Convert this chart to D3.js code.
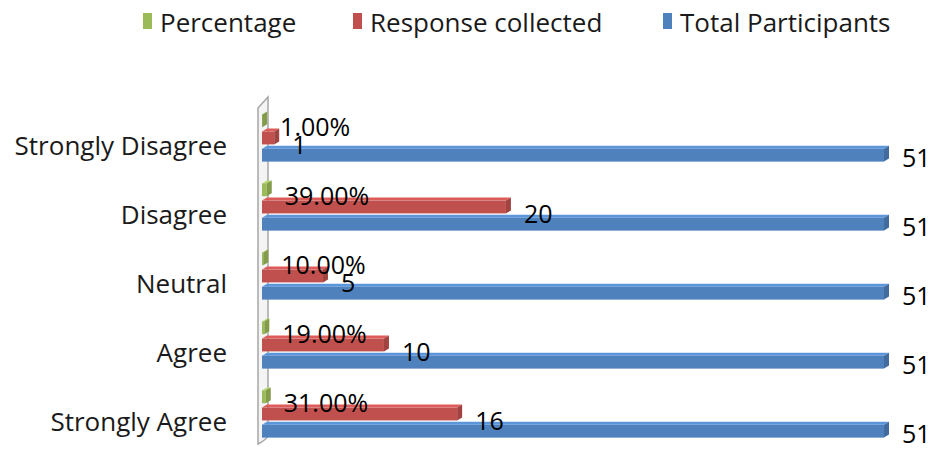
<!DOCTYPE html>
<html>
<head>
<meta charset="utf-8">
<script src="https://cdn.jsdelivr.net/npm/d3@7"></script>
<style>
  body { margin: 0; background: #fff; }
  text { font-family: "Open Sans", Lato, sans-serif; }
</style>
</head>
<body>
<div id="chart"></div>
<script>
var categories = ["Strongly Disagree", "Disagree", "Neutral", "Agree", "Strongly Agree"];
var seriesNames = ["Percentage", "Response collected", "Total Participants"];
var percentage = [0.01, 0.39, 0.10, 0.19, 0.31];
var responses = [1, 20, 5, 10, 16];
var participants = [51, 51, 51, 51, 51];
var colors = ["#9bbb59", "#c0504d", "#4f81bd"];

var width = 935, height = 450;
var depth = 5;

var svg = d3.select("#chart").append("svg")
  .attr("width", width)
  .attr("height", height);

svg.append("rect").attr("width", width).attr("height", height).attr("fill", "#fff");

var x = d3.scaleLinear()
  .domain([0, 51])
  .range([262, 884]);

var y0 = d3.scaleBand()
  .domain(categories)
  .range([110, 455]);

var y1 = d3.scaleBand()
  .domain(seriesNames)
  .range([0, 53])
  .padding(0.08);

var rows = categories.map(function(c, i) {
  return {
    cat: c,
    values: [
      { s: 0, v: percentage[i], label: (percentage[i] * 100).toFixed(2) + "%" },
      { s: 1, v: responses[i], label: String(responses[i]) },
      { s: 2, v: participants[i], label: String(participants[i]) }
    ]
  };
});

// side wall
var wall = svg.append("g");
wall.append("path")
  .attr("d", "M258,440 L258,108 L268,97 L268,436 Q266,440 258,444 Z")
  .attr("fill", "#f4f4f4")
  .attr("stroke", "#a6a6a6")
  .attr("stroke-width", 1.5);

// bars
var groups = svg.selectAll(".cat")
  .data(rows).enter()
  .append("g")
  .attr("class", "cat")
  .attr("transform", function(d) { return "translate(0," + y0(d.cat) + ")"; });

groups.each(function(d) {
  var g = d3.select(this);
  d.values.forEach(function(b) {
    var name = seriesNames[b.s];
    var x0 = x(0), x1 = x(b.v);
    var yt = y1(name) + 3, h = y1.bandwidth() - 3;
    var c = d3.color(colors[b.s]);
    // top face
    g.append("path")
      .attr("d", "M" + x0 + "," + yt + " L" + (x0 + depth) + "," + (yt - 3) +
        " L" + (x1 + depth) + "," + (yt - 3) + " L" + x1 + "," + yt + " Z")
      .attr("fill", c.brighter(0.4));
    // front face
    g.append("rect")
      .attr("x", x0)
      .attr("y", yt)
      .attr("width", Math.max(0, x1 - x0))
      .attr("height", h)
      .attr("fill", colors[b.s]);
    // end face
    g.append("path")
      .attr("d", "M" + x1 + "," + yt + " L" + (x1 + depth) + "," + (yt - 3) +
        " L" + (x1 + depth) + "," + (yt + h - 3) + " L" + x1 + "," + (yt + h) + " Z")
      .attr("fill", c.darker(0.5));
  });
});

// data labels
groups.each(function(d) {
  var g = d3.select(this);
  d.values.forEach(function(b) {
    var name = seriesNames[b.s];
    var yc = y1(name) + y1.bandwidth() / 2 + (b.s < 2 ? 7 : 3);
    g.append("text")
      .attr("x", x(b.v) + 18)
      .attr("y", yc)
      .attr("dominant-baseline", "central")
      .attr("font-size", 25)
      .attr("fill", "#000")
      .text(b.label);
  });
});

// category labels
svg.selectAll(".catlabel")
  .data(categories).enter()
  .append("text")
  .attr("class", "catlabel")
  .attr("x", 227)
  .attr("y", function(d) { return y0(d) + y0.bandwidth() / 2; })
  .attr("text-anchor", "end")
  .attr("dominant-baseline", "central")
  .attr("font-size", 26)
  .attr("fill", "#1a1a1a")
  .text(function(d) { return d; });

// legend
var legendX = [143, 353, 663];
var legend = svg.selectAll(".legend")
  .data(seriesNames).enter()
  .append("g")
  .attr("class", "legend")
  .attr("transform", function(d, i) { return "translate(" + legendX[i] + ",13)"; });

legend.append("rect")
  .attr("width", 9)
  .attr("height", 16)
  .attr("fill", function(d, i) { return colors[i]; });

legend.append("text")
  .attr("x", 17)
  .attr("y", 9)
  .attr("dominant-baseline", "central")
  .attr("font-size", 26)
  .attr("fill", "#1a1a1a")
  .text(function(d) { return d; });
</script>
</body>
</html>
